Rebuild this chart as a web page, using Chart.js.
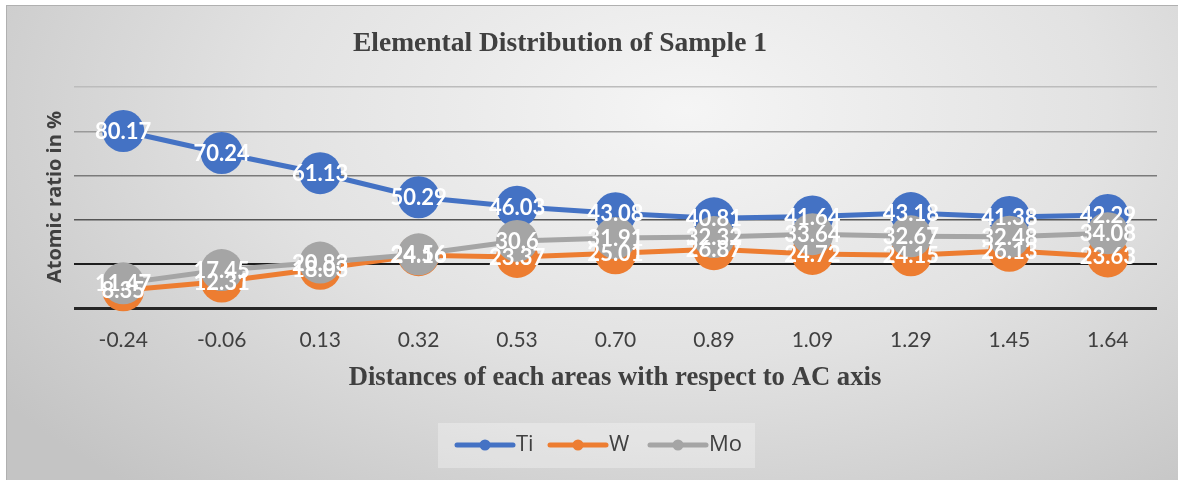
<!DOCTYPE html>
<html>
<head>
<meta charset="utf-8">
<title>Elemental Distribution of Sample 1</title>
<script src="https://cdn.jsdelivr.net/npm/chart.js@4"></script>
<style>
  body { margin: 0; background: #fff; }
  #wrap { position: relative; width: 1178px; height: 480px; overflow: hidden; }
  #panel {
    position: absolute; left: 6px; top: 5px; right: 0; bottom: 0;
    border-top: 1px solid #b0b0b0; border-left: 1px solid #b0b0b0;
    background: radial-gradient(ellipse 72% 105% at 58% 22%, #f5f5f5 0%, #e2e2e2 50%, #c4c4c4 100%);
  }
  #chart { position: absolute; left: 0; top: 0; }
</style>
</head>
<body>
<div id="wrap">
  <div id="panel"></div>
  <canvas id="chart" width="1178" height="480"></canvas>
</div>
<script>
const distances = ["-0.24", "-0.06", "0.13", "0.32", "0.53", "0.70", "0.89", "1.09", "1.29", "1.45", "1.64"];
const tiValues = [80.17, 70.24, 61.13, 50.29, 46.03, 43.08, 40.81, 41.64, 43.18, 41.38, 42.29];
const wValues = [8.35, 12.31, 18.03, 24.16, 23.37, 25.01, 26.87, 24.72, 24.15, 26.13, 23.63];
const moValues = [11.47, 17.45, 20.83, 24.56, 30.6, 31.91, 32.32, 33.64, 32.67, 32.48, 34.08];

const seriesNames = ["Ti", "W", "Mo"];
const seriesColors = ["#4472C4", "#ED7D31", "#A5A5A5"];

// gridlines get darker towards the bottom of the plot
const gridColors = { 0: "#262626", 20: "#1e1e1e", 40: "#555555", 60: "#7a7a7a", 80: "#9a9a9a", 100: "#bcbcbc" };
const gridWidths = { 0: 3, 20: 2 };

function makeSeries(name, values, color, order) {
    return {
        label: name,
        data: values,
        borderColor: color,
        backgroundColor: color,
        borderWidth: 5,
        pointRadius: 21,
        pointHoverRadius: 21,
        pointBorderWidth: 0,
        pointBackgroundColor: color,
        tension: 0,
        clip: false,
        order: order
    };
}

// titles drawn by hand so they can sit where they need to
const titlesPlugin = {
    id: "titles",
    afterDraw(chart) {
        const c = chart.ctx;
        c.save();
        c.fillStyle = "#404040";
        c.textAlign = "center";
        c.textBaseline = "middle";
        c.font = "bold 27.5px 'Liberation Serif'";
        c.fillText("Elemental Distribution of Sample 1", 560, 44);
        c.font = "bold 26.7px 'Liberation Serif'";
        c.fillText("Distances of each areas with respect to AC axis", 615, 378);
        c.translate(55, 197);
        c.rotate(-Math.PI / 2);
        c.font = "bold 20px 'Open Sans'";
        c.fillText("Atomic ratio in %", 0, 0);
        c.restore();
    }
};

// white value labels in the middle of each marker
const valueLabels = {
    id: "valueLabels",
    afterDatasetsDraw(chart) {
        const c = chart.ctx;
        c.save();
        c.fillStyle = "#ffffff";
        c.textAlign = "center";
        c.textBaseline = "middle";
        c.font = "bold 22px Lato";
        chart.data.datasets.forEach((ds, i) => {
            const meta = chart.getDatasetMeta(i);
            meta.data.forEach((pt, j) => {
                c.fillText(String(ds.data[j]), pt.x, pt.y + 1);
            });
        });
        c.restore();
    }
};

// legend with line + dot swatches inside a light box
const boxLegend = {
    id: "boxLegend",
    afterDraw(chart) {
        const c = chart.ctx;
        c.save();
        c.fillStyle = "rgba(255,255,255,0.3)";
        c.fillRect(438, 423, 317, 45);
        const starts = [457, 550, 650];
        c.textBaseline = "middle";
        c.font = "22px 'Open Sans'";
        seriesNames.forEach((name, i) => {
            const x = starts[i], y = 445;
            c.strokeStyle = seriesColors[i];
            c.lineWidth = 5;
            c.lineCap = "round";
            c.beginPath();
            c.moveTo(x, y);
            c.lineTo(x + 56, y);
            c.stroke();
            c.fillStyle = seriesColors[i];
            c.beginPath();
            c.arc(x + 28, y, 5.5, 0, Math.PI * 2);
            c.fill();
            c.fillStyle = "#404040";
            c.fillText(name, x + 59, y);
        });
        c.restore();
    }
};

const ctx = document.getElementById("chart").getContext("2d");
const elementChart = new Chart(ctx, {
    type: "line",
    data: {
        labels: distances,
        datasets: [
            makeSeries("Ti", tiValues, seriesColors[0], 3),
            makeSeries("W", wValues, seriesColors[1], 2),
            makeSeries("Mo", moValues, seriesColors[2], 1)
        ]
    },
    options: {
        responsive: false,
        animation: false,
        layout: {
            padding: { left: 74, right: 21, top: 87, bottom: 108 }
        },
        plugins: {
            legend: { display: false },
            title: { display: false },
            tooltip: { enabled: false }
        },
        scales: {
            x: {
                offset: true,
                grid: { display: false, drawTicks: false },
                border: { display: false },
                ticks: {
                    padding: 19,
                    color: "#404040",
                    font: { family: "Lato", size: 21 }
                }
            },
            y: {
                min: 0,
                max: 100,
                ticks: { display: false, stepSize: 20 },
                border: { display: false },
                grid: {
                    drawTicks: false,
                    color: (c) => gridColors[c.tick.value] || "#999",
                    lineWidth: (c) => gridWidths[c.tick.value] || 1.5
                }
            }
        }
    },
    plugins: [titlesPlugin, valueLabels, boxLegend]
});
</script>
</body>
</html>
